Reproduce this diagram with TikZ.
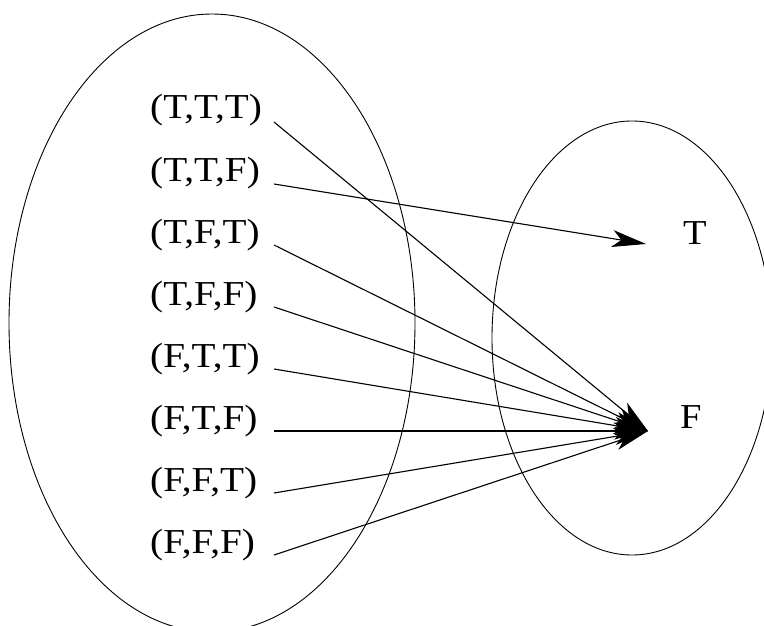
\documentclass[tikz,border=0pt]{standalone}
\usepackage{fontspec}
\setmainfont{Liberation Serif}
\usetikzlibrary{arrows.meta}
\begin{document}
\begin{tikzpicture}[x=1pt,y=-1pt,
  set/.style={draw=black,line width=0.9pt},
  tuple/.style={anchor=base west,inner sep=0pt,
    font=\fontsize{35}{38}\selectfont},
  value/.style={anchor=base west,inner sep=0pt,
    font=\fontsize{35}{38}\selectfont},
  maparrow/.style={draw=black,line width=1.1pt,
    -{Stealth[length=34pt,width=17pt,inset=9pt]}}]
\useasboundingbox (0,0) rectangle (764,626);

% domain and codomain
\draw[set] (212,323) ellipse [x radius=203, y radius=309];
\draw[set] (632,338) ellipse [x radius=140, y radius=217];

% argument tuples
\node[tuple] (ttt) at (150,119) {\scalebox{1.12}[1]{(T,T,T)}};
\node[tuple] (ttf) at (150,181) {\scalebox{1.12}[1]{(T,T,F)}};
\node[tuple] (tft) at (150,243) {\scalebox{1.12}[1]{(T,F,T)}};
\node[tuple] (tff) at (150,305) {\scalebox{1.12}[1]{(T,F,F)}};
\node[tuple] (ftt) at (150,367) {\scalebox{1.12}[1]{(F,T,T)}};
\node[tuple] (ftf) at (150,429) {\scalebox{1.12}[1]{(F,T,F)}};
\node[tuple] (fft) at (150,491) {\scalebox{1.12}[1]{(F,F,T)}};
\node[tuple] (fff) at (150,553) {\scalebox{1.12}[1]{(F,F,F)}};

% truth values
\node[value] (valT) at (683,244) {\scalebox{1.1}[1]{T}};
\node[value] (valF) at (680,428) {\scalebox{1.1}[1]{F}};

% arrow tails and heads
\coordinate (sttt) at (274,122);
\coordinate (sttf) at (274,184);
\coordinate (stft) at (274,245);
\coordinate (stff) at (274,307);
\coordinate (sftt) at (274,369);
\coordinate (sftf) at (274,431);
\coordinate (sfft) at (274,493);
\coordinate (sfff) at (274,555);
\coordinate (hT) at (646,244);
\coordinate (hF) at (648,431);

% the mapping
\draw[maparrow] (sttt) -- (hF);
\draw[maparrow] (sttf) -- (hT);
\draw[maparrow] (stft) -- (hF);
\draw[maparrow] (stff) -- (hF);
\draw[maparrow] (sftt) -- (hF);
\draw[maparrow] (sftf) -- (hF);
\draw[maparrow] (sfft) -- (hF);
\draw[maparrow] (sfff) -- (hF);
\end{tikzpicture}
\end{document}
